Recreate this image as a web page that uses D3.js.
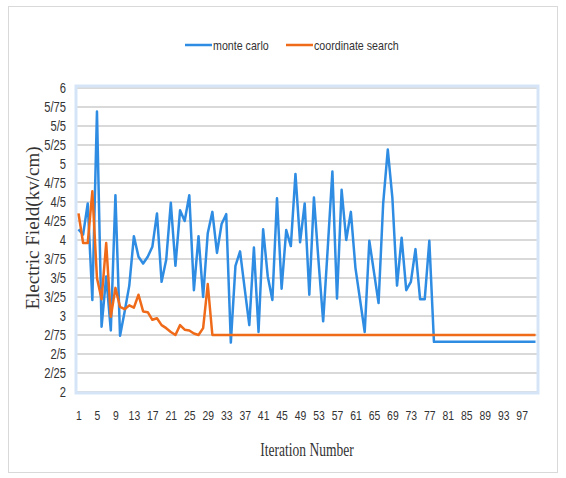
<!DOCTYPE html>
<html>
<head>
<meta charset="utf-8">
<script src="https://cdn.jsdelivr.net/npm/d3@7"></script>
<style>
  html, body { margin: 0; padding: 0; background: #fff; }
  svg { display: block; }
</style>
</head>
<body>
<svg id="chart" width="566" height="478"></svg>
<script>
// ---- data ----
const iterations = d3.range(1, 101);
const seriesNames = ["monte carlo", "coordinate search"];
const monteCarlo = [
  4.14, 4.07, 4.48, 3.21, 5.69, 2.86, 3.52, 2.81, 4.59, 2.74,
  3.06, 3.40, 4.05, 3.78, 3.69, 3.78, 3.91, 4.35, 3.45, 3.74,
  4.49, 3.66, 4.39, 4.25, 4.59, 3.34, 4.05, 3.25, 4.09, 4.37,
  3.83, 4.21, 4.34, 2.65, 3.66, 3.85, 3.36, 2.88, 3.90, 2.79,
  4.14, 3.52, 3.21, 4.55, 3.36, 4.13, 3.92, 4.87, 3.97, 4.48,
  3.28, 4.56, 3.72, 2.93, 3.90, 4.90, 3.23, 4.66, 4.00, 4.37,
  3.63, 3.21, 2.79, 3.99, 3.58, 3.17, 4.48, 5.19, 4.55, 3.40,
  4.03, 3.34, 3.45, 3.88, 3.22, 3.22, 3.99, 2.66, 2.66, 2.66,
  2.66, 2.66, 2.66, 2.66, 2.66, 2.66, 2.66, 2.66, 2.66, 2.66,
  2.66, 2.66, 2.66, 2.66, 2.66, 2.66, 2.66, 2.66, 2.66, 2.66
];
const coordinateSearch = [
  4.35, 3.96, 3.96, 4.64, 3.50, 3.22, 3.96, 2.99, 3.37, 3.12,
  3.09, 3.14, 3.11, 3.28, 3.06, 3.05, 2.95, 2.97, 2.88, 2.84,
  2.79, 2.75, 2.88, 2.82, 2.81, 2.77, 2.75, 2.84, 3.42, 2.75,
  2.75, 2.75, 2.75, 2.75, 2.75, 2.75, 2.75, 2.75, 2.75, 2.75,
  2.75, 2.75, 2.75, 2.75, 2.75, 2.75, 2.75, 2.75, 2.75, 2.75,
  2.75, 2.75, 2.75, 2.75, 2.75, 2.75, 2.75, 2.75, 2.75, 2.75,
  2.75, 2.75, 2.75, 2.75, 2.75, 2.75, 2.75, 2.75, 2.75, 2.75,
  2.75, 2.75, 2.75, 2.75, 2.75, 2.75, 2.75, 2.75, 2.75, 2.75,
  2.75, 2.75, 2.75, 2.75, 2.75, 2.75, 2.75, 2.75, 2.75, 2.75,
  2.75, 2.75, 2.75, 2.75, 2.75, 2.75, 2.75, 2.75, 2.75, 2.75
];
const xTickValues = [1, 5, 9, 13, 17, 21, 25, 29, 33, 37, 41, 45, 49, 53, 57, 61, 65, 69, 73, 77, 81, 85, 89, 93, 97];
const yTickValues = [2, 2.25, 2.5, 2.75, 3, 3.25, 3.5, 3.75, 4, 4.25, 4.5, 4.75, 5, 5.25, 5.5, 5.75, 6];
const yTickLabels = ["2", "2/25", "2/5", "2/75", "3", "3/25", "3/5", "3/75", "4", "4/25", "4/5", "4/75", "5", "5/25", "5/5", "5/75", "6"];
const colors = ["#2f8ce3", "#ef6b1a"];

// ---- layout ----
const svg = d3.select("#chart");
const plot = { left: 77, right: 537, top: 88, bottom: 392 };
const x = d3.scalePoint().domain(iterations).range([78.5, 535.5]);
const y = d3.scaleLinear().domain([2, 6]).range([plot.bottom, plot.top]);
const sans = "'Liberation Sans', Arial, sans-serif";

// horizontally condense text (the reference chart is squeezed sideways)
function condense(sel, k) {
  sel.each(function () {
    const w = this.getComputedTextLength();
    if (w > 0) {
      d3.select(this).attr("textLength", w * k).attr("lengthAdjust", "spacingAndGlyphs");
    }
  });
}

// outer frame
svg.append("rect")
  .attr("x", 8.5).attr("y", 6.5).attr("width", 549).attr("height", 466)
  .attr("fill", "none").attr("stroke", "#d9d9d9").attr("stroke-width", 1);

// gridlines
svg.append("g")
  .selectAll("line")
  .data(yTickValues)
  .join("line")
  .attr("x1", plot.left).attr("x2", plot.right)
  .attr("y1", d => y(d)).attr("y2", d => y(d))
  .attr("stroke", "#d9d9d9").attr("stroke-width", 2);

// plot area border
svg.append("rect")
  .attr("x", plot.left - 1).attr("y", plot.top - 2)
  .attr("width", plot.right - plot.left + 2).attr("height", plot.bottom - plot.top + 3)
  .attr("fill", "none").attr("stroke", "#d5e5f7").attr("stroke-width", 3);

// y axis
const yAxis = d3.axisLeft(y)
  .tickValues(yTickValues)
  .tickFormat((d, i) => yTickLabels[i])
  .tickSize(0).tickPadding(0);
const gy = svg.append("g").attr("transform", `translate(66,0)`).call(yAxis);
gy.select(".domain").remove();
gy.selectAll("text")
  .attr("font-family", sans).attr("font-size", 14).attr("fill", "#333").attr("dy", "0.34em")
  .call(condense, 0.8);

// x axis
const xAxis = d3.axisBottom(x).tickValues(xTickValues).tickSize(0).tickPadding(0);
const gx = svg.append("g").attr("transform", `translate(0,410)`).call(xAxis);
gx.select(".domain").remove();
gx.selectAll("text")
  .attr("font-family", sans).attr("font-size", 13).attr("fill", "#333").attr("dy", "0.8em")
  .call(condense, 0.8);

// lines
const line = d3.line().x((d, i) => x(iterations[i])).y(d => y(d));
[monteCarlo, coordinateSearch].forEach((s, k) => {
  svg.append("path")
    .datum(s)
    .attr("d", line)
    .attr("fill", "none")
    .attr("stroke", colors[k])
    .attr("stroke-width", 2.5)
    .attr("stroke-linejoin", "round");
});

// legend
const legendItems = [
  { name: seriesNames[0], color: colors[0], x: 185 },
  { name: seriesNames[1], color: colors[1], x: 286 }
];
const lg = svg.append("g");
legendItems.forEach(it => {
  lg.append("line")
    .attr("x1", it.x).attr("x2", it.x + 27).attr("y1", 45).attr("y2", 45)
    .attr("stroke", it.color).attr("stroke-width", 2.5);
  lg.append("text")
    .attr("x", it.x + 28).attr("y", 49.5)
    .attr("font-family", sans).attr("font-size", 13).attr("fill", "#333")
    .text(it.name)
    .call(condense, 0.82);
});

// axis titles
svg.append("text")
  .attr("transform", "translate(39,228) rotate(-90)")
  .attr("text-anchor", "middle")
  .attr("font-family", "'Liberation Serif', 'Times New Roman', serif")
  .attr("font-size", 19).attr("fill", "#333")
  .text("Electric Field(kv/cm)");

svg.append("text")
  .attr("x", 307).attr("y", 456)
  .attr("text-anchor", "middle")
  .attr("font-family", "'Liberation Serif', 'Times New Roman', serif")
  .attr("font-size", 18).attr("fill", "#333")
  .text("Iteration Number")
  .call(condense, 0.75);
</script>
</body>
</html>
